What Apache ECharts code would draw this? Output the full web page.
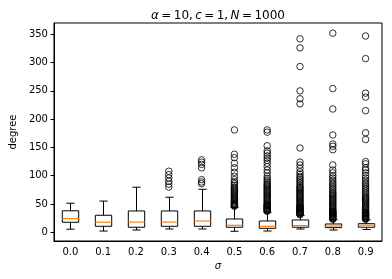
<!DOCTYPE html>
<html>
<head>
<meta charset="utf-8">
<script src="https://cdn.jsdelivr.net/npm/echarts@6/dist/echarts.min.js"></script>
<style>html,body{margin:0;padding:0;background:#fff}#c{width:392px;height:279px}</style>
</head>
<body>
<div id="c"></div>
<script>
var categories = ['0.0','0.1','0.2','0.3','0.4','0.5','0.6','0.7','0.8','0.9'];
var whiskerLow  = [5.5, 2.2, 4.0, 5.8, 5.8, 1.8, 2.3, 5.8, 4.0, 5.0];
var q1          = [17.7, 10.6, 8.9, 10.6, 10.6, 8.9, 7.0, 8.9, 8.2, 8.9];
var median      = [24.3, 17.9, 18.0, 18.0, 20.0, 12.4, 10.5, 11.8, 11.0, 12.5];
var q3          = [38.0, 30.1, 37.7, 37.7, 37.7, 23.5, 20.0, 21.8, 14.7, 15.2];
var whiskerHigh = [51.4, 55.2, 79.7, 62.0, 76.0, 44.0, 35.4, 30.0, 22.0, 22.0];
var outliers = [
  [],
  [],
  [],
  [108, 102, 96, 90, 85, 80],
  [128, 124, 120, 114, 93, 89, 86],
  [181, 138, 132, 122, 114, 106, 99, 93, 89, 86, 83, 80, 78, 76, 74, 72, 70, 68, 66, 64, 62, 60, 58, 57, 55, 54, 52, 51, 50, 49, 48, 47, 46],
  [181, 177, 153, 144, 140, 135, 131, 127, 122, 116, 110, 105, 99, 95, 92, 89, 86, 84, 82, 80, 78, 76, 74, 72, 70, 68, 66, 64, 62, 60, 58, 56, 54, 52, 50, 49, 48, 47, 46, 45, 44, 43, 42, 41, 40, 39, 38, 37],
  [342, 326, 293, 250, 236, 227, 149, 124, 119, 113, 107, 103, 99, 96, 93, 90, 87, 84, 81, 79, 77, 75, 73, 71, 69, 67, 65, 63, 61, 59, 57, 55, 53, 51, 49, 47, 46, 45, 44, 43, 42, 41, 40, 39, 38, 37, 36, 35, 34, 33, 32, 31],
  [352, 254, 218, 172, 156, 152, 146, 119, 110, 105, 100, 96, 92, 88, 85, 82, 79, 76, 73, 70, 68, 66, 64, 62, 60, 58, 56, 54, 52, 50, 48, 46, 44, 42, 40, 38, 37, 36, 35, 34, 33, 32, 31, 30, 29, 28, 27, 26, 25, 24, 23],
  [347, 307, 246, 239, 215, 176, 164, 125, 121, 114, 110, 105, 100, 96, 92, 88, 85, 82, 79, 76, 73, 70, 67, 64, 62, 60, 58, 56, 54, 52, 50, 48, 46, 44, 42, 40, 38, 36, 35, 34, 33, 32, 31, 30, 29, 28, 27, 26, 25, 24, 23]
];
var yTicks = [0, 50, 100, 150, 200, 250, 300, 350];

var boxData = categories.map(function (c, i) {
  return [i, whiskerLow[i], q1[i], median[i], q3[i], whiskerHigh[i]];
});
var outlierData = [];
outliers.forEach(function (arr, i) {
  arr.forEach(function (v) { outlierData.push([i, v]); });
});

var FONT = 'DejaVu Sans';
var TS = '\u2009';
var chart = echarts.init(document.getElementById('c'), null, {renderer: 'canvas'});
chart.setOption({
  animation: false,
  backgroundColor: '#fff',
  title: {
    text: '{i|α}' + TS + '=' + TS + '10,' + TS + '{i|c}' + TS + '=' + TS + '1,' + TS + '{i|N}' + TS + '=' + TS + '1000',
    left: 213,
    textAlign: 'center',
    top: 5,
    textStyle: {
      fontFamily: FONT, fontSize: 12, fontWeight: 'normal', color: '#000',
      rich: { i: { fontStyle: 'italic', fontFamily: FONT, fontSize: 12, color: '#000' } }
    }
  },
  grid: {
    left: 47, right: 10, top: 23, bottom: 38,
    show: true, borderColor: '#000', borderWidth: 1, backgroundColor: 'transparent'
  },
  xAxis: {
    type: 'category',
    data: categories,
    boundaryGap: true,
    name: 'σ',
    nameLocation: 'middle',
    nameGap: 19,
    nameTextStyle: { fontFamily: FONT, fontSize: 10, fontStyle: 'italic', color: '#000' },
    axisLine: { onZero: false, lineStyle: { color: '#000', width: 1 } },
    axisTick: { alignWithLabel: true, interval: 0, length: 3.5, lineStyle: { color: '#000' } },
    axisLabel: { interval: 0, margin: 6, fontFamily: FONT, fontSize: 10, color: '#000' },
    splitLine: { show: false }
  },
  yAxis: {
    type: 'value',
    min: -15.4,
    max: 370,
    splitNumber: 8,
    name: 'degree',
    nameLocation: 'middle',
    nameGap: 31,
    nameTextStyle: { fontFamily: FONT, fontSize: 10, color: '#000' },
    axisLine: { show: true, onZero: false, lineStyle: { color: '#000', width: 1 } },
    axisTick: { show: true, length: 3.5, lineStyle: { color: '#000' } },
    axisLabel: {
      margin: 6, fontFamily: FONT, fontSize: 10, color: '#000',
      showMinLabel: false, showMaxLabel: false,
      formatter: function (v) { return yTicks.indexOf(v) >= 0 ? String(v) : ''; }
    },
    splitLine: { show: false }
  },
  series: [
    {
      type: 'custom',
      data: boxData,
      encode: { x: 0, y: [1, 2, 3, 4, 5] },
      z: 3,
      renderItem: function (params, api) {
        var x = api.value(0);
        var band = api.size([1, 0])[0];
        var hw = band * 0.25, cw = band * 0.125;
        var pLow = api.coord([x, api.value(1)]);
        var pQ1 = api.coord([x, api.value(2)]);
        var pMed = api.coord([x, api.value(3)]);
        var pQ3 = api.coord([x, api.value(4)]);
        var pHigh = api.coord([x, api.value(5)]);
        var cx = Math.round(pQ1[0]) + 0.5;
        var black = { stroke: '#000', lineWidth: 1, fill: null };
        return {
          type: 'group',
          children: [
            { type: 'line', shape: { x1: cx, y1: pLow[1], x2: cx, y2: pQ1[1] }, style: black },
            { type: 'line', shape: { x1: cx, y1: pQ3[1], x2: cx, y2: pHigh[1] }, style: black },
            { type: 'line', shape: { x1: cx - cw, y1: pLow[1], x2: cx + cw, y2: pLow[1] }, style: black },
            { type: 'line', shape: { x1: cx - cw, y1: pHigh[1], x2: cx + cw, y2: pHigh[1] }, style: black },
            { type: 'rect', shape: { x: cx - hw, y: pQ3[1], width: hw * 2, height: pQ1[1] - pQ3[1] }, style: { stroke: '#000', lineWidth: 1, fill: 'rgba(255,255,255,0)' } },
            { type: 'line', shape: { x1: cx - hw, y1: pMed[1], x2: cx + hw, y2: pMed[1] }, style: { stroke: '#ff7f0e', lineWidth: 1.2 }, z2: 5 }
          ]
        };
      }
    },
    {
      type: 'scatter',
      data: outlierData,
      symbol: 'circle',
      symbolSize: 6.5,
      z: 4,
      itemStyle: { color: 'rgba(255,255,255,0)', borderColor: '#000', borderWidth: 1 }
    }
  ]
});
</script>
</body>
</html>
